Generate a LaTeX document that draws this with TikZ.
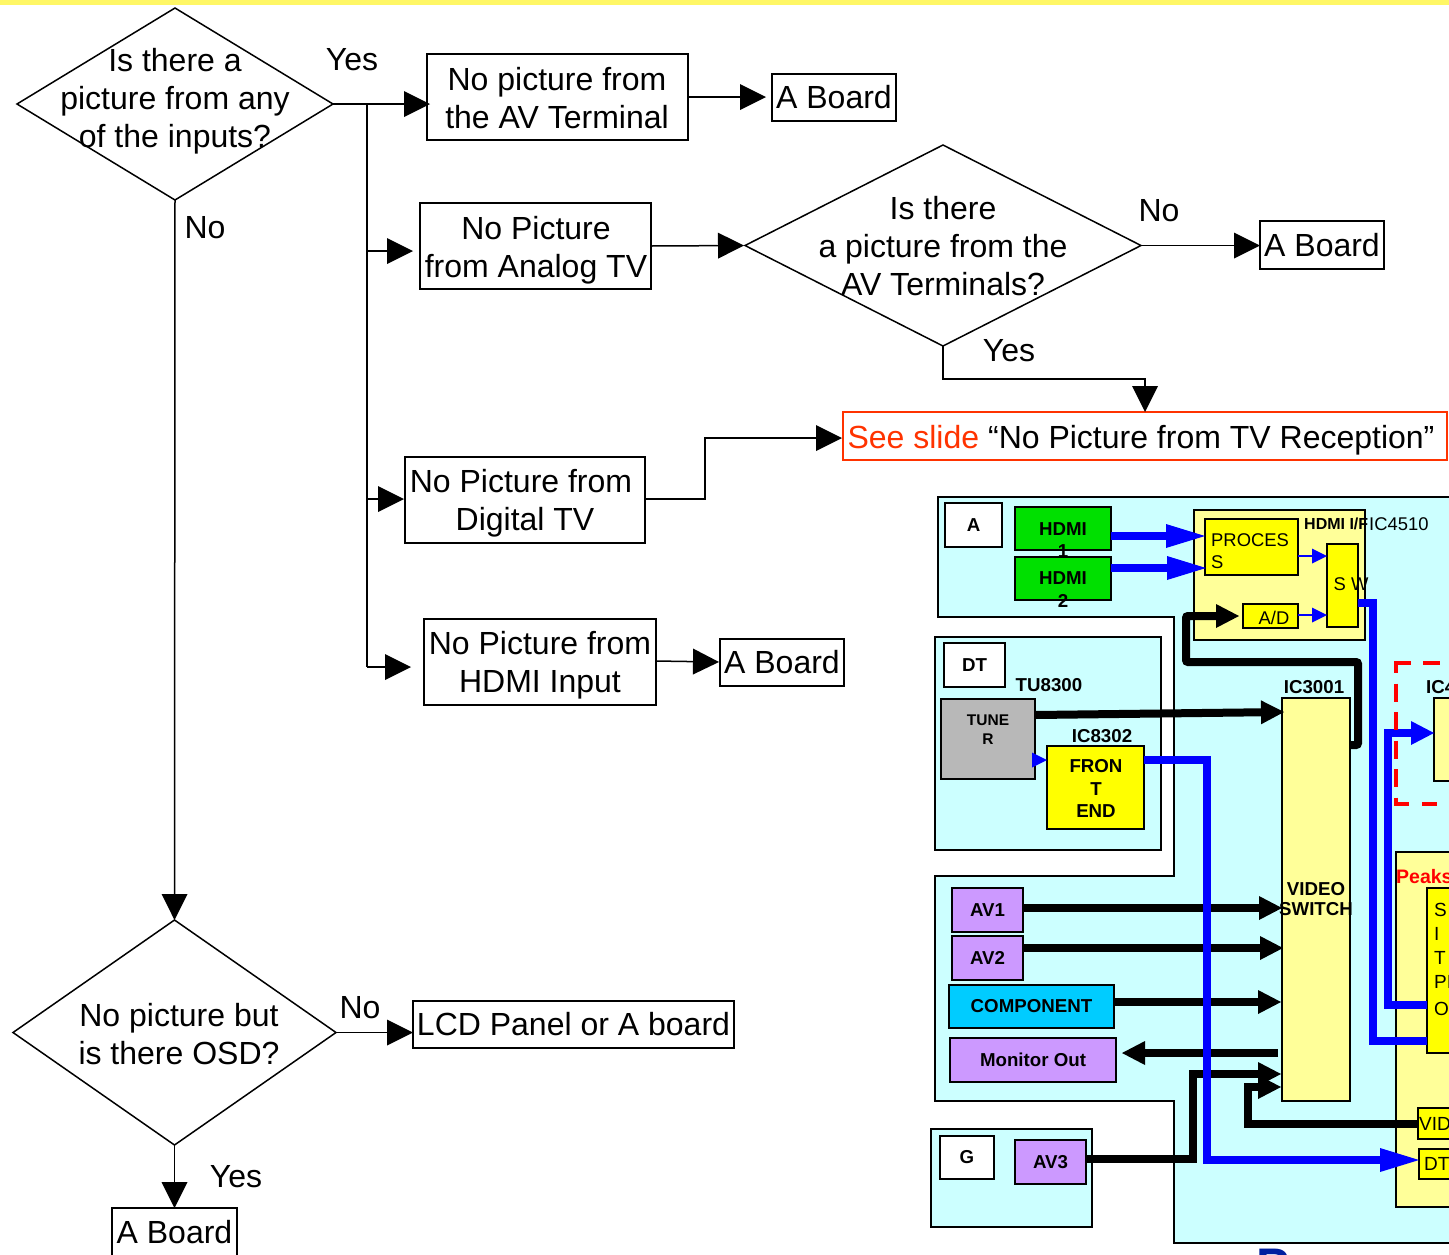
\documentclass[tikz,border=0pt]{standalone}
\usepackage{fontspec}
\setmainfont{Liberation Sans}
\usetikzlibrary{arrows.meta,shapes.geometric}
\definecolor{cyanbg}{HTML}{CCFFFF}
\definecolor{paleY}{HTML}{FFFF99}
\definecolor{chipY}{HTML}{FFFF00}
\definecolor{purp}{HTML}{CC99FF}
\definecolor{compB}{HTML}{00CCFF}
\definecolor{hdmiG}{HTML}{00E000}
\definecolor{tunerG}{HTML}{B8B8B8}
\definecolor{seeR}{HTML}{FF3300}
\definecolor{blueL}{HTML}{0000FF}
\definecolor{logoB}{HTML}{0020A0}
\tikzset{
 x=1pt,y=-1pt,
 flow/.style={draw=black,line width=1.6pt,fill=white,inner sep=0pt,outer sep=0pt,align=center,font=\fontsize{32}{38}\selectfont},
 dia/.style={diamond,draw=black,line width=1.5pt,inner sep=0pt,outer sep=0pt},
 lbl/.style={inner sep=0pt,align=center,font=\fontsize{32}{38}\selectfont},
 flink/.style={draw=black,line width=1.5pt,-{Triangle[length=26pt,width=26pt,line width=0pt]}},
 blk/.style={draw=black,line width=1.8pt,inner sep=0pt,outer sep=0pt,align=center,font=\bfseries\fontsize{18.7}{22}\selectfont},
 tag/.style={inner sep=0pt,font=\bfseries\fontsize{18.7}{22}\selectfont},
 thickK/.style={draw=black,line width=8pt,-{Triangle[length=23pt,width=24pt,line width=0pt]}},
 thickB/.style={draw=blueL,line width=8pt,-{Triangle[length=39pt,width=24pt,line width=0pt]}},
 midB/.style={draw=blueL,line width=8pt,-{Triangle[length=23pt,width=24pt,line width=0pt]}},
 thinB/.style={draw=blueL,line width=1.5pt,-{Triangle[length=15pt,width=15pt,line width=0pt]}},
 redbox/.style={draw=red,line width=3.5pt},
}
\newcommand{\bx}[6][]{\node[#2,minimum width={#5-#3},minimum height={#6-#4},#1] at ({(#3+#5)/2},{(#4+#6)/2})}
\begin{document}
\begin{tikzpicture}
\useasboundingbox (0,0) rectangle (1449,1254);
\clip (0,0) rectangle (1449,1254);
\fill[white] (0,0) rectangle (1449,1254);
\fill[yellow!60!white] (0,0) rectangle (1449,5);

% ---- flow chart
\bx{dia}{17}{8}{333}{200} (d1) {};
\bx{dia}{745}{145}{1141}{346} (d2) {};
\bx{dia}{13}{920}{336}{1145} (d3) {};
\node[lbl] (d1t) at (175,101) {Is there a\hspace{16pt}\\picture from any\\of the inputs?};
\node[lbl] (d2t) at (943,246) {Is there\\a picture from the\\AV Terminals?};
\node[lbl] (d3t) at (179,1034) {No picture but\\is there OSD?};
\bx{flow}{427}{54}{688}{140} (b1) {};
\bx{flow}{420}{203}{651}{289} (b2) {};
\bx{flow}{405}{457}{645}{543} (b3) {};
\bx{flow}{424}{619}{656}{705} (b4) {};
\node[lbl] (b1t) at (557,98.500) {No picture from\\the AV Terminal};
\node[lbl] (b2t) at (536,250) {No Picture\\from Analog TV};
\node[lbl] (b3t) at (521,503) {No Picture from\\\hspace{8pt}Digital TV};
\node[lbl] (b4t) at (540,665) {No Picture from\\HDMI Input};
\bx{flow}{772}{74}{896}{121} (a1) {A Board};
\bx{flow}{1260}{221}{1384}{269} (a2) {A Board};
\bx{flow}{720}{639}{844}{686} (a4) {A Board};
\bx{flow}{413}{1001}{734}{1048} (b5) {LCD Panel or A board};
\bx{flow}{112}{1208}{237}{1264} (a5) {};
\node[lbl] (a5t) at (174.500,1232) {A Board};
\bx[draw=seeR]{flow}{843}{412}{1447}{460} (see) {};
\node[lbl] (seet) at (1141,440) {\textcolor{seeR}{See slide} “No Picture from TV Reception”};
\node[lbl] (y1) at (352,60) {Yes};
\node[lbl] (n1) at (205,228) {No};
\node[lbl] (n2) at (1159,211) {No};
\node[lbl] (y2) at (1009,351) {Yes};
\node[lbl] (n3) at (360,1008) {No};
\node[lbl] (y3) at (236,1177) {Yes};

\coordinate (jt) at (367,104);
\coordinate (j2) at (367,251);
\coordinate (j3) at (367,499);
\coordinate (j4) at (367,667);
\coordinate (bend1) at (705,499);
\coordinate (bend2) at (705,438);
\coordinate (bend3) at (765,438);
\draw[flink,line width=2pt] (d1.east) -- ([xshift=3pt]b1.west |- d1.east);
\draw[draw=black,line width=1.5pt] (jt) -- (j4);
\draw[draw=black,line width=2.6pt] (jt) -- (j3);
\draw[flink,line width=1.2pt] (j2) -- ([xshift=-7pt]b2.west |- j2);
\draw[flink] (j3) -- ([xshift=-1pt]b3.west |- j3);
\draw[flink] (j4) -- ([xshift=-13pt]b4.west |- j4);
\draw[flink] (b1.east |- 0,97) -- ([xshift=-6pt]a1.west |- 0,97);
\draw[flink] (b2.east |- 0,246) -- ([xshift=-1pt]d2.west);
\draw[flink] (d2.east) -- (a2.west |- d2.east);
\draw[flink] (d2.south) -- (943,379) -- (1145,379) -- (see.north -| 1145,0);
\draw[draw=black,line width=2.6pt] (b3.east |- j3) -- (bend1) -- (bend2) -- (bend3);
\draw[flink] (bend3) -- ([xshift=-1pt]see.west |- bend3);
\draw[flink] (b4.east |- 0,661) -- ([xshift=-1pt]a4.west |- 0,662);
\draw[flink] (d1.south) -- (d3.north);
\draw[flink] (d3.east) -- (b5.west |- d3.east);
\draw[flink] (d3.south) -- (a5.north -| d3.south);

% ---- block diagram
\draw[fill=cyanbg,line width=1.5pt] (938,497) -- (1470,497) -- (1470,1243) -- (1174,1243) -- (1174,1101) -- (935,1101) -- (935,876) -- (1174,876) -- (1174,617) -- (938,617) -- cycle;
\bx[fill=cyanbg]{blk}{935}{637}{1161}{850} (dtp) {};
\bx[fill=cyanbg]{blk}{931}{1129}{1092}{1227} (gp) {};
\bx[fill=paleY]{blk}{1194}{510}{1365}{640} (hdp) {};
\bx[fill=paleY]{blk}{1396}{852}{1480}{1207} (pkp) {};
\bx[fill=paleY]{blk}{1282}{698}{1350}{1101} (ic3) {};
\bx[fill=paleY]{blk}{1434}{698}{1480}{781} (ic4) {};
\bx[fill=white]{blk}{945}{503}{1002}{547} (la) {A};
\bx[fill=white]{blk}{944}{643}{1005}{687} (ld) {DT};
\bx[fill=white]{blk}{940}{1136}{994}{1179} (lg) {G};
\bx[fill=hdmiG]{blk}{1015}{507}{1111}{550} (h1) {};
\bx[fill=hdmiG]{blk}{1015}{557}{1111}{600} (h2) {};
\node[tag] (h1t) at (1063,529) {HDMI};
\node[tag] (h1n) at (1063,551) {1};
\node[tag] (h2t) at (1063,578) {HDMI};
\node[tag] (h2n) at (1063,601) {2};
\bx[fill=chipY]{blk}{1205}{519}{1298}{575} (pr) {};
\node[anchor=west,inner sep=0pt,align=left,font=\fontsize{18.4}{22}\selectfont] (prt) at (1211,551.500) {PROCES\\S};
\bx[fill=chipY]{blk}{1327}{544}{1358}{627} (sw) {};
\node[inner sep=0pt,font=\fontsize{18.4}{22}\selectfont] (swt) at (1351,584) {S W};
\bx[fill=chipY]{blk}{1243}{604}{1298}{628} (ad) {};
\node[inner sep=0pt,font=\fontsize{18.4}{22}\selectfont] (adt) at (1274,617.500) {A/D};
\node[anchor=west,inner sep=0pt,font=\bfseries\fontsize{16}{20}\selectfont] (hif) at (1304,524) {HDMI I/F};
\node[anchor=west,inner sep=0pt,font=\fontsize{18.4}{22}\selectfont] (ic45) at (1369,524) {IC4510};
\node[tag] (tu) at (1049,685) {TU8300};
\node[tag] (i83) at (1102,736) {IC8302};
\node[tag] (i30) at (1314,687) {IC3001};
\node[tag,anchor=west] (i4) at (1426,687) {IC4};
\bx[fill=tunerG]{blk}{941}{699}{1035}{779} (tn) {};
\node[inner sep=0pt,align=center,font=\bfseries\fontsize{15.500}{19}\selectfont] (tnt) at (988,730) {TUNE\\R};
\bx[fill=chipY]{blk}{1047}{746}{1144}{829} (fe) {};
\node[inner sep=0pt,align=center,font=\bfseries\fontsize{18.7}{22.500}\selectfont] (fet) at (1096,788.500) {FRON\\T\\END};
\node[inner sep=0pt,align=center,font=\bfseries\fontsize{18.7}{20}\selectfont] (vst) at (1316,899.500) {VIDEO\\SWITCH};
\bx[fill=purp]{blk}{952}{888}{1023}{932} (av1) {AV1};
\bx[fill=purp]{blk}{952}{936}{1023}{980} (av2) {AV2};
\bx[fill=compB]{blk}{949}{985}{1114}{1028} (cmp) {COMPONENT};
\bx[fill=purp]{blk}{950}{1038}{1116}{1082} (mon) {Monitor Out};
\bx[fill=purp]{blk}{1015}{1140}{1086}{1184} (av3) {AV3};
\bx[fill=chipY]{blk}{1427}{888}{1480}{1053} (sit) {};
\node[anchor=north west,inner sep=0pt,align=left,font=\fontsize{19}{24}\selectfont] (sitt) at (1434,903) {S\\I\\T\\PI\\[3pt]O};
\bx[fill=chipY]{blk}{1418}{1108}{1480}{1139} (vid) {};
\node[anchor=west,inner sep=0pt,font=\fontsize{19}{22}\selectfont] (vidt) at (1419,1124) {VID};
\bx[fill=chipY]{blk}{1419}{1149}{1480}{1179} (dtc) {};
\node[anchor=west,inner sep=0pt,font=\fontsize{19}{22}\selectfont] (dtt) at (1424,1164) {DT};
\node[anchor=west,inner sep=0pt,text=red,font=\bfseries\fontsize{19.5}{22}\selectfont] (pk) at (1396,877) {Peaks};

% connectors
\draw[thickK] (tn.east |- 0,715) -- ([xshift=2pt]ic3.west |- 0,712);
\draw[thickK,rounded corners=2pt] (ic3.east |- 0,745) -- (1358,745) -- (1358,662) -- (1186,662) -- (1186,616) -- ([xshift=-4pt]ad.west |- 0,616);
\draw[thickK] (av1.east |- 0,908) -- (ic3.west |- 0,908);
\draw[thickK] (av2.east |- 0,948) -- ([xshift=1pt]ic3.west |- 0,948);
\draw[thickK] (cmp.east |- 0,1002) -- ([xshift=-1pt]ic3.west |- 0,1002);
\draw[thickK] (1278,1053) -- ([xshift=6pt]mon.east |- 0,1053);
\draw[thickK] (av3.east |- 0,1159) -- (1193,1159) -- (1193,1074) -- ([xshift=-1pt]ic3.west |- 0,1074);
\draw[thickK] (vid.west |- 0,1124) -- (1248,1124) -- (1248,1087) -- ([xshift=-1pt]ic3.west |- 0,1087);
\draw[thickB] (h1.east |- 0,536) -- (pr.west |- 0,536);
\draw[thickB] (h2.east |- 0,568) -- ([xshift=1pt]pr.west |- 0,568);
\draw[thinB] (pr.east |- 0,556) -- (sw.west |- 0,556);
\draw[thinB] (ad.east |- 0,615) -- (sw.west |- 0,615);
\draw[draw=blueL,line width=8pt] (sw.east |- 0,603) -- (1373,603) -- (1373,1041) -- (sit.west |- 0,1041);
\draw[midB] (sit.west |- 0,1005) -- (1388,1005) -- (1388,733) -- (ic4.west |- 0,733);
\draw[thickB] (fe.east |- 0,760) -- (1207,760) -- (1207,1160) -- (dtc.west |- 0,1160);
\draw[thinB] (tn.east |- 0,760) -- (fe.west |- 0,760);
\draw[redbox,dash pattern=on 17pt off 12pt] (1394.250,663) -- (1470,663);
\draw[redbox,dash pattern=on 18pt off 10.500pt,dash phase=7pt] (1396,662) -- (1396,804);
\draw[redbox,dash pattern=on 15pt off 13pt] (1394.250,804) -- (1470,804);
\node[anchor=north west,inner sep=0pt,text=logoB,font=\bfseries\fontsize{50}{54}\selectfont] (pan) at (1256,1249) {P};
\end{tikzpicture}
\end{document}
